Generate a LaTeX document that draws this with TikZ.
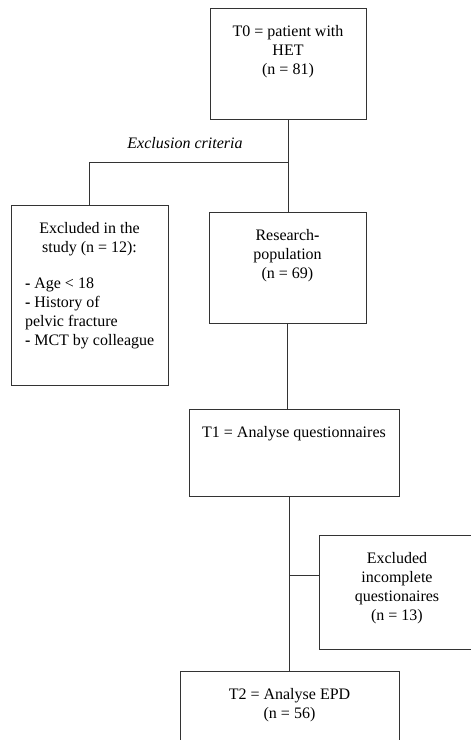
\documentclass[tikz,border=0pt]{standalone}
\usepackage{fontspec}
\setmainfont{Liberation Serif}
\usetikzlibrary{positioning,calc}

\begin{document}
\begin{tikzpicture}[x=1pt, y=-1pt, line width=1pt,
  box/.style={rectangle, draw=black!80, inner sep=0pt, minimum width=156pt},
  txt/.style={inner sep=0pt, align=center, font=\fontsize{16}{19}\selectfont}]
\useasboundingbox (0,0) rectangle (471,740);
% boxes
\node (T0) [box, minimum height=111pt] at (288,63.5) {};
\node (Excl) [box, minimum width=157pt, minimum height=180pt] at (89.5,295) {};
\node (Res) [box, minimum width=157pt, minimum height=111pt] at (287.5,267.5) {};
\node (T1) [box, minimum width=210pt, minimum height=87pt] at (294,452.5) {};
\node (Incompl) [box, minimum height=114pt] at (397,592) {};
\node (T2) [box, minimum width=219pt, minimum height=87pt] at (289.5,714.5) {};
% texts
\node (T0txt) [txt, below=17pt of T0.north] {T0 = patient with\\HET\\(n = 81)};
\node (Excltxt) [txt, below=17pt of Excl.north] {Excluded in the\\study (n = 12):};
\node (Exclist) [txt, align=left, anchor=north west] at ($(Excl.north west)+(14,73)$)
  {\textbf{-} Age < 18\\\textbf{-} History of\\pelvic fracture\\\textbf{-} MCT by colleague};
\node (Restxt) [txt, below=17pt of Res.north] {Research\textbf{-}\\population\\(n = 69)};
\node (T1txt) [txt, below=17pt of T1.north] {T1 = Analyse questionnaires};
\node (Incompltxt) [txt, below=17pt of Incompl.north] {Excluded\\incomplete\\questionaires\\(n = 13)};
\node (T2txt) [txt, below=17pt of T2.north] {T2 = Analyse EPD\\(n = 56)};
\node (crit) [txt, font=\fontsize{16}{19}\selectfont\itshape] at (185,143) {Exclusion criteria};
% connectors
\coordinate (split) at ($(T0.south)+(0,43)$);
\coordinate (split2) at (289,575);
\draw[black!80] (T0.south) -- (T0.south |- Res.north);
\draw[black!80] (split) -| (Excl.north);
\draw[black!80] (Res.south) -- (Res.south |- T1.north);
\draw[black!80] (split2 |- T1.south) -- (split2 |- T2.north);
\draw[black!80] (split2) -- (split2 -| Incompl.west);
\end{tikzpicture}
\end{document}
